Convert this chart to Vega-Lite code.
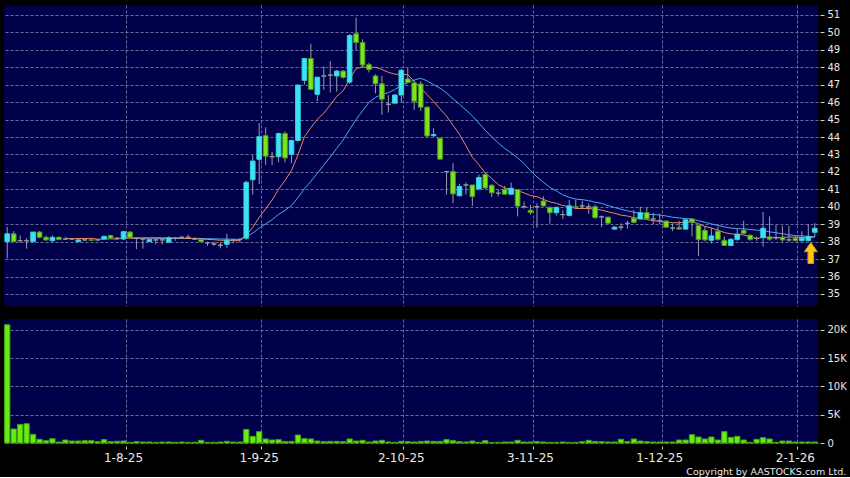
{
  "$schema": "https://vega.github.io/schema/vega-lite/v6.json",
  "background": "#000000",
  "padding": {"left": 4, "top": 5, "right": 3, "bottom": 0},
  "spacing": 13,
  "title": {"text": "Copyright by AASTOCKS.com Ltd.", "orient": "bottom", "anchor": "end", "frame": "bounds", "font": "DejaVu Sans", "fontSize": 9.5, "fontWeight": "normal", "color": "#e8e8e8", "offset": 4},
  "config": {
    "view": {"fill": "#00004a", "stroke": null},
    "axis": {"domain": false, "title": null, "gridColor": "#6a6a98", "gridDash": [3, 2], "gridWidth": 1, "tickColor": "#cfcfcf", "labelColor": "#e8e8e8", "labelFont": "DejaVu Sans", "labelOverlap": false, "labelFlush": false}
  },
  "datasets": {
    "bars": [
      {"date":"2025-07-08","open":38.0,"high":38.85,"low":37.05,"close":38.45,"volume":20900},
      {"date":"2025-07-09","open":38.45,"high":38.6,"low":38.0,"close":38.0,"volume":2470},
      {"date":"2025-07-10","open":38.05,"high":38.35,"low":37.95,"close":38.05,"volume":3290},
      {"date":"2025-07-11","open":38.05,"high":38.2,"low":37.6,"close":38.05,"volume":3410},
      {"date":"2025-07-14","open":38.0,"high":38.55,"low":38.0,"close":38.55,"volume":1530},
      {"date":"2025-07-15","open":38.55,"high":38.6,"low":38.2,"close":38.25,"volume":650},
      {"date":"2025-07-16","open":38.25,"high":38.35,"low":38.05,"close":38.1,"volume":410},
      {"date":"2025-07-17","open":38.05,"high":38.35,"low":38.0,"close":38.25,"volume":760},
      {"date":"2025-07-18","open":38.25,"high":38.3,"low":38.1,"close":38.12,"volume":180},
      {"date":"2025-07-21","open":38.15,"high":38.25,"low":38.1,"close":38.15,"volume":530,"ma10":38.2},
      {"date":"2025-07-22","open":38.15,"high":38.2,"low":38.1,"close":38.15,"volume":350,"ma10":38.17},
      {"date":"2025-07-23","open":38.0,"high":38.15,"low":38.0,"close":38.1,"volume":350,"ma10":38.18},
      {"date":"2025-07-24","open":38.1,"high":38.15,"low":38.05,"close":38.1,"volume":410,"ma10":38.18},
      {"date":"2025-07-25","open":38.1,"high":38.15,"low":38.05,"close":38.08,"volume":410,"ma10":38.19},
      {"date":"2025-07-28","open":38.1,"high":38.15,"low":38.05,"close":38.1,"volume":240,"ma10":38.14},
      {"date":"2025-07-29","open":38.15,"high":38.35,"low":38.1,"close":38.3,"volume":590,"ma10":38.15},
      {"date":"2025-07-30","open":38.35,"high":38.4,"low":38.15,"close":38.2,"volume":240,"ma10":38.16},
      {"date":"2025-07-31","open":38.2,"high":38.25,"low":38.1,"close":38.2,"volume":300,"ma10":38.15},
      {"date":"2025-08-01","open":38.15,"high":38.6,"low":38.1,"close":38.57,"volume":350,"ma10":38.2},
      {"date":"2025-08-04","open":38.55,"high":38.6,"low":38.2,"close":38.23,"volume":120,"ma10":38.2,"ma20":38.2},
      {"date":"2025-08-05","open":38.2,"high":38.25,"low":37.57,"close":38.2,"volume":240,"ma10":38.21,"ma20":38.19},
      {"date":"2025-08-06","open":38.15,"high":38.2,"low":37.6,"close":38.15,"volume":180,"ma10":38.21,"ma20":38.2},
      {"date":"2025-08-07","open":38.0,"high":38.15,"low":38.0,"close":38.12,"volume":180,"ma10":38.22,"ma20":38.2},
      {"date":"2025-08-08","open":38.1,"high":38.15,"low":37.85,"close":38.1,"volume":120,"ma10":38.22,"ma20":38.2},
      {"date":"2025-08-11","open":38.1,"high":38.15,"low":37.85,"close":38.1,"volume":180,"ma10":38.22,"ma20":38.18},
      {"date":"2025-08-12","open":37.97,"high":38.3,"low":37.95,"close":38.22,"volume":180,"ma10":38.21,"ma20":38.18},
      {"date":"2025-08-13","open":38.2,"high":38.25,"low":38.05,"close":38.2,"volume":120,"ma10":38.21,"ma20":38.18},
      {"date":"2025-08-14","open":38.25,"high":38.3,"low":38.2,"close":38.25,"volume":180,"ma10":38.21,"ma20":38.18},
      {"date":"2025-08-15","open":38.25,"high":38.4,"low":38.15,"close":38.25,"volume":120,"ma10":38.18,"ma20":38.19},
      {"date":"2025-08-18","open":38.15,"high":38.25,"low":38.1,"close":38.15,"volume":120,"ma10":38.17,"ma20":38.19},
      {"date":"2025-08-19","open":38.12,"high":38.15,"low":38.0,"close":38.0,"volume":470,"ma10":38.15,"ma20":38.18},
      {"date":"2025-08-20","open":37.93,"high":38.0,"low":37.76,"close":37.93,"volume":120,"ma10":38.13,"ma20":38.17},
      {"date":"2025-08-21","open":37.87,"high":38.0,"low":37.75,"close":37.87,"volume":120,"ma10":38.11,"ma20":38.16},
      {"date":"2025-08-22","open":37.8,"high":37.96,"low":37.62,"close":37.8,"volume":180,"ma10":38.08,"ma20":38.15},
      {"date":"2025-08-25","open":37.85,"high":38.45,"low":37.65,"close":38.08,"volume":300,"ma10":38.08,"ma20":38.15},
      {"date":"2025-08-26","open":38.1,"high":38.15,"low":37.9,"close":38.1,"volume":180,"ma10":38.06,"ma20":38.14},
      {"date":"2025-08-27","open":38.12,"high":38.2,"low":37.95,"close":38.12,"volume":180,"ma10":38.06,"ma20":38.13},
      {"date":"2025-08-28","open":38.2,"high":41.5,"low":38.1,"close":41.4,"volume":2410,"ma10":38.37,"ma20":38.29},
      {"date":"2025-08-29","open":41.55,"high":42.95,"low":40.7,"close":42.62,"volume":1180,"ma10":38.81,"ma20":38.49},
      {"date":"2025-09-01","open":42.72,"high":44.8,"low":41.3,"close":44.02,"volume":2000,"ma10":39.39,"ma20":38.78},
      {"date":"2025-09-02","open":44.08,"high":44.56,"low":42.4,"close":42.9,"volume":710,"ma10":39.88,"ma20":39.02},
      {"date":"2025-09-03","open":42.87,"high":43.15,"low":42.4,"close":42.87,"volume":530,"ma10":40.38,"ma20":39.26},
      {"date":"2025-09-04","open":42.87,"high":44.25,"low":42.55,"close":44.2,"volume":590,"ma10":41.01,"ma20":39.56},
      {"date":"2025-09-05","open":44.2,"high":44.32,"low":42.55,"close":42.8,"volume":290,"ma10":41.51,"ma20":39.79},
      {"date":"2025-09-08","open":43.0,"high":43.85,"low":42.5,"close":43.8,"volume":290,"ma10":42.08,"ma20":40.08},
      {"date":"2025-09-09","open":43.8,"high":47.0,"low":43.75,"close":46.98,"volume":1410,"ma10":42.97,"ma20":40.52},
      {"date":"2025-09-10","open":47.25,"high":48.52,"low":47.0,"close":48.5,"volume":760,"ma10":44.01,"ma20":41.03},
      {"date":"2025-09-11","open":48.5,"high":49.35,"low":46.7,"close":46.73,"volume":710,"ma10":44.54,"ma20":41.46},
      {"date":"2025-09-12","open":46.45,"high":47.45,"low":46.05,"close":47.43,"volume":350,"ma10":45.02,"ma20":41.92},
      {"date":"2025-09-15","open":47.5,"high":48.05,"low":46.7,"close":47.5,"volume":240,"ma10":45.37,"ma20":42.38},
      {"date":"2025-09-16","open":47.55,"high":48.35,"low":46.55,"close":47.55,"volume":290,"ma10":45.84,"ma20":42.86},
      {"date":"2025-09-17","open":47.5,"high":47.85,"low":46.6,"close":47.78,"volume":290,"ma10":46.33,"ma20":43.35},
      {"date":"2025-09-18","open":47.78,"high":47.85,"low":47.35,"close":47.42,"volume":240,"ma10":46.65,"ma20":43.83},
      {"date":"2025-09-19","open":47.15,"high":49.9,"low":47.05,"close":49.82,"volume":710,"ma10":47.35,"ma20":44.43},
      {"date":"2025-09-22","open":49.92,"high":50.85,"low":48.99,"close":49.42,"volume":350,"ma10":47.91,"ma20":45.0},
      {"date":"2025-09-23","open":49.42,"high":49.6,"low":48.0,"close":48.13,"volume":470,"ma10":48.03,"ma20":45.5},
      {"date":"2025-09-24","open":48.15,"high":48.25,"low":47.7,"close":47.87,"volume":180,"ma10":47.97,"ma20":45.99},
      {"date":"2025-09-25","open":47.5,"high":47.6,"low":46.5,"close":47.05,"volume":350,"ma10":48.0,"ma20":46.27},
      {"date":"2025-09-26","open":47.05,"high":47.5,"low":45.27,"close":46.17,"volume":470,"ma10":47.87,"ma20":46.45},
      {"date":"2025-09-29","open":45.88,"high":46.4,"low":45.4,"close":45.88,"volume":180,"ma10":47.71,"ma20":46.54},
      {"date":"2025-09-30","open":45.94,"high":46.45,"low":45.94,"close":46.41,"volume":120,"ma10":47.6,"ma20":46.72},
      {"date":"2025-10-02","open":46.41,"high":47.9,"low":46.0,"close":47.83,"volume":290,"ma10":47.6,"ma20":46.96},
      {"date":"2025-10-03","open":47.33,"high":47.95,"low":47.1,"close":47.13,"volume":240,"ma10":47.57,"ma20":47.11},
      {"date":"2025-10-06","open":47.1,"high":47.27,"low":45.55,"close":46.05,"volume":180,"ma10":47.19,"ma20":47.27},
      {"date":"2025-10-08","open":47.04,"high":47.2,"low":45.5,"close":45.71,"volume":290,"ma10":46.82,"ma20":47.37},
      {"date":"2025-10-09","open":45.71,"high":45.75,"low":44.0,"close":44.06,"volume":350,"ma10":46.42,"ma20":47.22},
      {"date":"2025-10-10","open":44.08,"high":44.5,"low":44.0,"close":44.14,"volume":290,"ma10":46.04,"ma20":47.0},
      {"date":"2025-10-13","open":43.93,"high":43.95,"low":42.7,"close":42.73,"volume":290,"ma10":45.61,"ma20":46.8},
      {"date":"2025-10-14","open":42.02,"high":42.05,"low":40.7,"close":42.02,"volume":590,"ma10":45.2,"ma20":46.53},
      {"date":"2025-10-15","open":42.02,"high":42.5,"low":40.2,"close":40.74,"volume":410,"ma10":44.68,"ma20":46.2},
      {"date":"2025-10-16","open":40.63,"high":41.3,"low":40.6,"close":41.16,"volume":240,"ma10":44.16,"ma20":45.88},
      {"date":"2025-10-17","open":41.25,"high":41.4,"low":40.7,"close":41.25,"volume":180,"ma10":43.5,"ma20":45.55},
      {"date":"2025-10-20","open":41.25,"high":41.25,"low":40.05,"close":40.58,"volume":350,"ma10":42.84,"ma20":45.21},
      {"date":"2025-10-21","open":41.02,"high":41.85,"low":40.95,"close":41.68,"volume":120,"ma10":42.41,"ma20":44.8},
      {"date":"2025-10-22","open":41.85,"high":41.95,"low":41.0,"close":41.08,"volume":410,"ma10":41.94,"ma20":44.38},
      {"date":"2025-10-23","open":41.23,"high":41.3,"low":40.56,"close":40.8,"volume":60,"ma10":41.62,"ma20":44.02},
      {"date":"2025-10-24","open":40.78,"high":41.0,"low":40.6,"close":40.78,"volume":120,"ma10":41.28,"ma20":43.66},
      {"date":"2025-10-27","open":41.0,"high":41.2,"low":40.7,"close":40.72,"volume":180,"ma10":41.08,"ma20":43.35},
      {"date":"2025-10-28","open":40.72,"high":41.39,"low":40.7,"close":41.06,"volume":180,"ma10":40.99,"ma20":43.09},
      {"date":"2025-10-30","open":40.98,"high":41.0,"low":39.45,"close":40.04,"volume":470,"ma10":40.92,"ma20":42.8},
      {"date":"2025-10-31","open":40.0,"high":40.3,"low":39.9,"close":40.0,"volume":180,"ma10":40.8,"ma20":42.48},
      {"date":"2025-11-03","open":39.8,"high":40.1,"low":39.55,"close":39.68,"volume":180,"ma10":40.64,"ma20":42.07},
      {"date":"2025-11-04","open":40.0,"high":40.2,"low":38.8,"close":40.0,"volume":240,"ma10":40.58,"ma20":41.71},
      {"date":"2025-11-05","open":40.33,"high":40.6,"low":40.0,"close":40.05,"volume":180,"ma10":40.42,"ma20":41.41},
      {"date":"2025-11-06","open":39.97,"high":40.0,"low":39.03,"close":39.66,"volume":120,"ma10":40.28,"ma20":41.11},
      {"date":"2025-11-07","open":39.66,"high":40.0,"low":39.5,"close":39.97,"volume":120,"ma10":40.2,"ma20":40.91},
      {"date":"2025-11-10","open":39.55,"high":39.8,"low":39.3,"close":39.55,"volume":180,"ma10":40.07,"ma20":40.68},
      {"date":"2025-11-11","open":39.5,"high":40.4,"low":39.45,"close":40.05,"volume":120,"ma10":40.01,"ma20":40.54},
      {"date":"2025-11-12","open":40.02,"high":40.4,"low":39.9,"close":40.0,"volume":120,"ma10":39.9,"ma20":40.44},
      {"date":"2025-11-13","open":40.05,"high":40.35,"low":39.9,"close":40.05,"volume":240,"ma10":39.9,"ma20":40.41},
      {"date":"2025-11-14","open":40.0,"high":40.2,"low":39.6,"close":40.0,"volume":470,"ma10":39.9,"ma20":40.35},
      {"date":"2025-11-17","open":40.0,"high":40.1,"low":39.3,"close":39.38,"volume":290,"ma10":39.87,"ma20":40.26},
      {"date":"2025-11-18","open":39.42,"high":39.5,"low":38.83,"close":39.42,"volume":240,"ma10":39.81,"ma20":40.2},
      {"date":"2025-11-19","open":39.4,"high":39.45,"low":39.0,"close":39.06,"volume":180,"ma10":39.71,"ma20":40.07},
      {"date":"2025-11-20","open":38.72,"high":38.9,"low":38.7,"close":38.83,"volume":180,"ma10":39.63,"ma20":39.96},
      {"date":"2025-11-21","open":38.83,"high":39.05,"low":38.65,"close":38.83,"volume":650,"ma10":39.52,"ma20":39.86},
      {"date":"2025-11-24","open":39.05,"high":39.2,"low":38.75,"close":39.05,"volume":240,"ma10":39.47,"ma20":39.77},
      {"date":"2025-11-25","open":39.34,"high":39.8,"low":39.05,"close":39.11,"volume":710,"ma10":39.37,"ma20":39.69},
      {"date":"2025-11-26","open":39.3,"high":40.0,"low":39.28,"close":39.66,"volume":350,"ma10":39.34,"ma20":39.62},
      {"date":"2025-11-27","open":39.66,"high":39.95,"low":39.3,"close":39.32,"volume":240,"ma10":39.27,"ma20":39.58},
      {"date":"2025-11-28","open":39.3,"high":39.65,"low":39.0,"close":39.3,"volume":180,"ma10":39.2,"ma20":39.55},
      {"date":"2025-12-01","open":39.2,"high":39.6,"low":39.0,"close":39.2,"volume":180,"ma10":39.18,"ma20":39.53},
      {"date":"2025-12-02","open":39.18,"high":39.2,"low":38.8,"close":38.83,"volume":180,"ma10":39.12,"ma20":39.47},
      {"date":"2025-12-03","open":38.78,"high":39.05,"low":38.6,"close":38.78,"volume":180,"ma10":39.09,"ma20":39.4},
      {"date":"2025-12-04","open":38.8,"high":39.2,"low":38.7,"close":38.72,"volume":530,"ma10":39.08,"ma20":39.36},
      {"date":"2025-12-05","open":38.72,"high":39.3,"low":38.7,"close":39.25,"volume":530,"ma10":39.12,"ma20":39.32},
      {"date":"2025-12-08","open":39.3,"high":39.3,"low":38.3,"close":39.12,"volume":1470,"ma10":39.13,"ma20":39.3},
      {"date":"2025-12-09","open":38.92,"high":38.95,"low":37.18,"close":38.12,"volume":1060,"ma10":39.03,"ma20":39.2},
      {"date":"2025-12-10","open":38.65,"high":38.9,"low":38.0,"close":38.1,"volume":710,"ma10":38.87,"ma20":39.11},
      {"date":"2025-12-11","open":38.08,"high":38.8,"low":37.9,"close":38.33,"volume":1060,"ma10":38.78,"ma20":39.02},
      {"date":"2025-12-12","open":38.6,"high":38.85,"low":38.05,"close":38.13,"volume":530,"ma10":38.66,"ma20":38.93},
      {"date":"2025-12-15","open":38.08,"high":38.3,"low":37.75,"close":37.78,"volume":2000,"ma10":38.52,"ma20":38.85},
      {"date":"2025-12-16","open":37.78,"high":38.2,"low":37.75,"close":38.13,"volume":1000,"ma10":38.45,"ma20":38.78},
      {"date":"2025-12-17","open":38.13,"high":38.75,"low":38.05,"close":38.43,"volume":1180,"ma10":38.41,"ma20":38.75},
      {"date":"2025-12-18","open":38.65,"high":39.2,"low":38.45,"close":38.48,"volume":530,"ma10":38.39,"ma20":38.73},
      {"date":"2025-12-19","open":38.37,"high":38.4,"low":38.05,"close":38.13,"volume":120,"ma10":38.28,"ma20":38.7},
      {"date":"2025-12-22","open":38.18,"high":38.3,"low":38.05,"close":38.18,"volume":650,"ma10":38.18,"ma20":38.66},
      {"date":"2025-12-23","open":38.23,"high":39.7,"low":37.72,"close":38.77,"volume":940,"ma10":38.25,"ma20":38.64},
      {"date":"2025-12-24","open":38.27,"high":39.45,"low":38.05,"close":38.14,"volume":710,"ma10":38.25,"ma20":38.56},
      {"date":"2025-12-29","open":38.22,"high":38.95,"low":38.1,"close":38.22,"volume":120,"ma10":38.24,"ma20":38.51},
      {"date":"2025-12-30","open":38.25,"high":38.9,"low":38.0,"close":38.1,"volume":350,"ma10":38.24,"ma20":38.45},
      {"date":"2025-12-31","open":38.1,"high":38.9,"low":38.0,"close":38.1,"volume":350,"ma10":38.27,"ma20":38.39},
      {"date":"2026-01-02","open":38.2,"high":38.3,"low":38.0,"close":38.06,"volume":180,"ma10":38.26,"ma20":38.35},
      {"date":"2026-01-05","open":38.06,"high":38.6,"low":38.0,"close":38.2,"volume":180,"ma10":38.24,"ma20":38.33},
      {"date":"2026-01-06","open":38.06,"high":39.0,"low":38.0,"close":38.3,"volume":180,"ma10":38.22,"ma20":38.3},
      {"date":"2026-01-07","open":38.54,"high":39.06,"low":38.25,"close":38.77,"volume":180,"ma10":38.28,"ma20":38.28}
    ],
    "marker": [{"date": "2026-01-06", "price": 37.35}]
  },
  "vconcat": [
    {
      "width": 814,
      "height": 301,
      "data": {"name": "bars"},
      "encoding": {
        "x": {"field": "date", "type": "ordinal", "sort": null,
              "scale": {"type": "band", "paddingInner": 0, "paddingOuter": 0},
              "axis": {"labels": false, "ticks": false, "grid": true, "bandPosition": 0.9,
                       "values": ["2025-08-01","2025-09-01","2025-10-02","2025-11-03","2025-12-01","2026-01-02"]}}
      },
      "layer": [
        {
          "mark": {"type": "line", "color": "#4ba9ea", "strokeWidth": 1},
          "encoding": {"y": {"field": "ma20", "type": "quantitative",
                             "scale": {"domain": [34.31, 51.57], "nice": false, "zero": false},
                             "axis": {"orient": "right", "values": [35,36,37,38,39,40,41,42,43,44,45,46,47,48,49,50,51], "tickCount": 30, "format": "d",
                                      "grid": true, "tickSize": 4, "offset": 2, "labelPadding": 3, "labelFontSize": 10}}}
        },
        {
          "mark": {"type": "line", "color": "#e9895c", "strokeWidth": 1},
          "encoding": {"y": {"field": "ma10", "type": "quantitative", "scale": {"domain": [34.31, 51.57], "nice": false, "zero": false}}}
        },
        {
          "mark": {"type": "rule", "color": "#9a9aaa", "strokeWidth": 1},
          "encoding": {
            "y": {"field": "low", "type": "quantitative", "scale": {"domain": [34.31, 51.57], "nice": false, "zero": false}},
            "y2": {"field": "high"}
          }
        },
        {
          "mark": {"type": "bar", "width": {"band": 0.72}, "strokeWidth": 1},
          "encoding": {
            "y": {"field": "open", "type": "quantitative", "scale": {"domain": [34.31, 51.57], "nice": false, "zero": false}},
            "y2": {"field": "close"},
            "fill": {"condition": [{"test": "datum.close > datum.open", "value": "#3be4f2"}, {"test": "datum.close < datum.open", "value": "#7be620"}], "value": "#9a9a9a"},
            "stroke": {"condition": [{"test": "datum.close > datum.open", "value": "#34d0de"}, {"test": "datum.close < datum.open", "value": "#4f9a18"}], "value": "#9a9a9a"}
          }
        },
        {
          "data": {"name": "marker"},
          "mark": {"type": "point", "filled": true, "fill": "#ffc61a", "stroke": "#d99400", "strokeWidth": 1, "opacity": 1, "size": 441, "xOffset": 2.5,
                   "shape": "M0,-1L0.62,-0.12L0.27,-0.12L0.27,1L-0.27,1L-0.27,-0.12L-0.62,-0.12Z"},
          "encoding": {
            "y": {"field": "price", "type": "quantitative", "scale": {"domain": [34.31, 51.57], "nice": false, "zero": false}}
          }
        }
      ]
    },
    {
      "width": 814,
      "height": 124,
      "data": {"name": "bars"},
      "mark": {"type": "bar", "width": {"band": 0.82}, "fill": "#66ee14", "stroke": "#43a012", "strokeWidth": 1},
      "encoding": {
        "x": {"field": "date", "type": "ordinal", "sort": null,
              "scale": {"type": "band", "paddingInner": 0, "paddingOuter": 0},
              "axis": {"grid": true, "bandPosition": 0.9, "tickSize": 3, "offset": 3, "labelPadding": 3, "labelFontSize": 12, "labelAngle": 0,
                       "values": ["2025-08-01","2025-09-01","2025-10-02","2025-11-03","2025-12-01","2026-01-02"],
                       "labelExpr": "utcFormat(toDate(datum.value), '%-d-%-m-%y')"}},
        "y": {"field": "volume", "type": "quantitative",
              "scale": {"domain": [0, 21920], "nice": false},
              "axis": {"orient": "right", "values": [0, 5000, 10000, 15000, 20000], "tickCount": 10, "grid": true, "tickSize": 4, "offset": 2, "labelPadding": 3, "labelFontSize": 10,
                       "labelExpr": "datum.value == 0 ? '0' : (datum.value / 1000) + 'K'"}}
      }
    }
  ]
}
